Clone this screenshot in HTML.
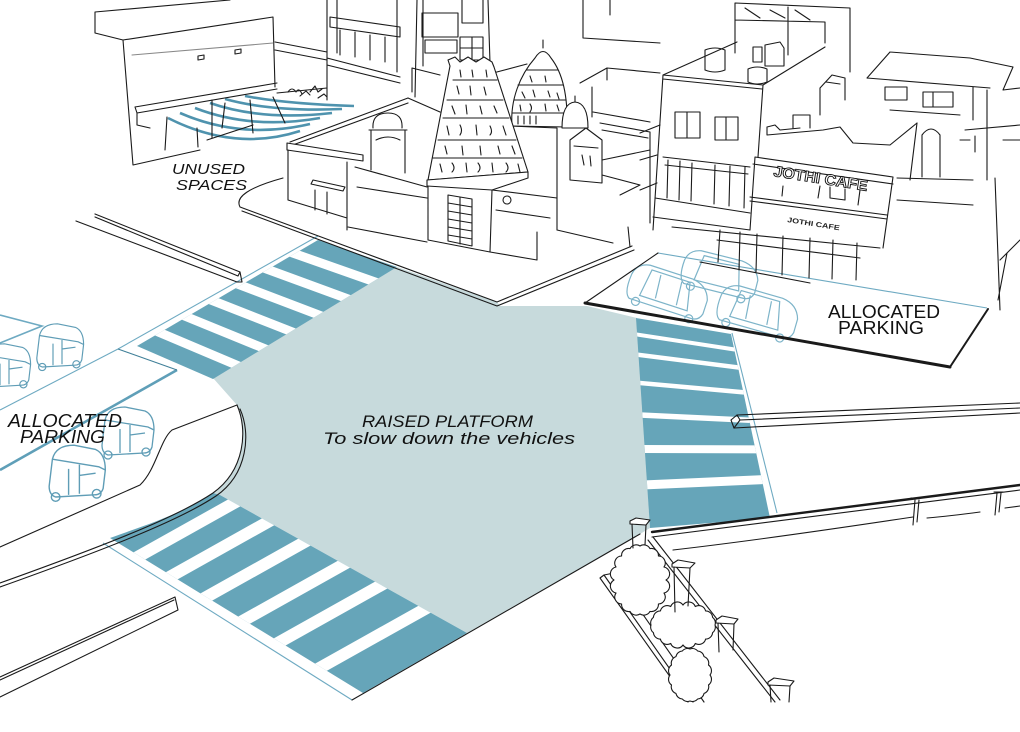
<!DOCTYPE html>
<html><head><meta charset="utf-8">
<style>
html,body{margin:0;padding:0;background:#fff;}
svg{display:block;}
text{font-family:"Liberation Sans",sans-serif;}
</style></head><body>
<svg width="1020" height="732" viewBox="0 0 1020 732" xmlns="http://www.w3.org/2000/svg">
<defs>
<clipPath id="cNW"><polygon points="137,346 318,240 397,267 213,379"/></clipPath>
<clipPath id="cSW"><path d="M110,538 L363,693 L467,633 L220,495 L213,493 C180,515 140,527 110,538 Z"/></clipPath>
<clipPath id="cE"><polygon points="636,318 731,334 770,518 650,528"/></clipPath>
</defs>
<rect width="1020" height="732" fill="#fff"/>

<!-- raised platform -->
<path d="M213,378 L397,267 L497,302 L500,306 L587,306 L637,318 L650,528 L640,534 L467,633 L220,495 L213,493 C245,470 248,430 237,405 Z" fill="#c7dadc"/>

<!-- NW crosswalk -->
<g clip-path="url(#cNW)">
<rect x="100" y="220" width="320" height="180" fill="#66a5b9"/>
<g stroke="#fff" stroke-width="9">
<line x1="136.9" y1="322.9" x2="259.1" y2="374.6"/>
<line x1="163.8" y1="307.5" x2="286.6" y2="357.6"/>
<line x1="190.5" y1="292" x2="314.2" y2="340.6"/>
<line x1="217.4" y1="276.4" x2="341.7" y2="323.7"/>
<line x1="244.3" y1="260.9" x2="369.2" y2="306.7"/>
<line x1="271.1" y1="245.4" x2="396.9" y2="289.7"/>
</g></g>

<!-- SW crosswalk -->
<g clip-path="url(#cSW)">
<rect x="100" y="480" width="380" height="230" fill="#66a5b9"/>
<g stroke="#fff" stroke-width="12">
<line x1="109" y1="573" x2="309" y2="461"/>
<line x1="141" y1="593" x2="341" y2="481"/>
<line x1="176" y1="614" x2="376" y2="502"/>
<line x1="214" y1="637" x2="414" y2="525"/>
<line x1="251" y1="658" x2="451" y2="546"/>
<line x1="291" y1="684" x2="491" y2="572"/>
</g></g>

<!-- E crosswalk -->
<g clip-path="url(#cE)">
<rect x="620" y="300" width="170" height="240" fill="#66a5b9"/>
<g stroke="#fff">
<line x1="620" y1="331.9" x2="790" y2="358" stroke-width="4"/>
<line x1="620" y1="352.5" x2="790" y2="374" stroke-width="4.5"/>
<line x1="620" y1="381.2" x2="790" y2="396.5" stroke-width="4.5"/>
<line x1="620" y1="414" x2="790" y2="422.2" stroke-width="5.5"/>
<line x1="620" y1="449" x2="790" y2="449.5" stroke-width="8"/>
<line x1="620" y1="486" x2="790" y2="478.4" stroke-width="9"/>
</g></g>

<!-- light blue road lines -->
<g stroke="#6eaac2" fill="none" stroke-width="1.1">
<path d="M118,349 L318,236"/>
<path d="M103,543 L352,700"/>
<path d="M732,333 L777,513"/>
<path d="M118,349 L0,410"/>
<path d="M0,315 L42,326 L0,343" stroke-width="1.6"/>
<path d="M658,253 L987,308"/>
</g>
<path d="M177,370 L0,470" stroke="#5f9fb8" stroke-width="2.6" fill="none"/>
<path d="M118,349 L177,370" stroke="#3f7f98" stroke-width="1" fill="none"/>

<!-- unused spaces blue arcs -->
<g stroke="#4f93ae" stroke-width="2.6" fill="none">
<path d="M168,118 Q235,152 300,131"/>
<path d="M180,113 Q242,140 310,124"/>
<path d="M195,108 Q252,130 320,118"/>
<path d="M210,103 Q262,121 332,113"/>
<path d="M225,99 Q272,112 342,109"/>
<path d="M245,96 Q287,104 354,106"/>
</g>

<!-- parked cars -->
<g stroke="#7db4c9" stroke-width="1.2" fill="none">
<g transform="translate(668,292) rotate(18)">
<path d="M-40,-6 Q-38,-18 -25,-20 L20,-20 Q36,-18 40,-4 L40,10 Q38,18 30,18 L-35,18 Q-42,14 -40,-6 Z"/>
<path d="M-22,-16 L18,-16 L24,12 L-26,12 Z"/><path d="M-12,-14 L-10,10 M10,-14 L12,10"/>
<circle cx="-28" cy="19" r="4"/><circle cx="28" cy="19" r="4"/></g>
<g transform="translate(720,275) rotate(14)">
<path d="M-38,-6 Q-36,-17 -24,-19 L18,-19 Q34,-17 38,-4 L38,9 Q36,17 28,17 L-33,17 Q-40,13 -38,-6 Z"/>
<path d="M-20,-15 L16,-15 L22,11 L-24,11 Z"/>
<circle cx="-26" cy="18" r="4"/><circle cx="26" cy="18" r="4"/></g>
<g transform="translate(758,312) rotate(16)">
<path d="M-40,-6 Q-38,-18 -25,-20 L20,-20 Q36,-18 40,-4 L40,10 Q38,18 30,18 L-35,18 Q-42,14 -40,-6 Z"/>
<path d="M-22,-16 L18,-16 L24,12 L-26,12 Z"/><path d="M-12,-14 L-10,10 M10,-14 L12,10"/>
<circle cx="-28" cy="19" r="4"/><circle cx="28" cy="19" r="4"/></g>
</g>

<!-- rickshaws -->
<g stroke="#5f9db6" stroke-width="1.3" fill="none">
<g transform="translate(-18,342) scale(0.9)"><path d="M5,15 Q8,2 25,2 L45,6 Q54,10 54,25 L52,42 Q50,48 44,48 L8,50 Q2,48 2,40 Z M5,15 L48,22 L54,25 M30,20 L30,47 M20,24 L20,48 M30,30 L45,28"/><circle cx="8" cy="50" r="4"/><circle cx="46" cy="47" r="4"/></g>
<g transform="translate(35,322) scale(0.9)"><path d="M5,15 Q8,2 25,2 L45,6 Q54,10 54,25 L52,42 Q50,48 44,48 L8,50 Q2,48 2,40 Z M5,15 L48,22 L54,25 M30,20 L30,47 M20,24 L20,48 M30,30 L45,28"/><circle cx="8" cy="50" r="4"/><circle cx="46" cy="47" r="4"/></g>
<g transform="translate(100,405) scale(1.0)"><path d="M5,15 Q8,2 25,2 L45,6 Q54,10 54,25 L52,42 Q50,48 44,48 L8,50 Q2,48 2,40 Z M5,15 L48,22 L54,25 M30,20 L30,47 M20,24 L20,48 M30,30 L45,28"/><circle cx="8" cy="50" r="4"/><circle cx="46" cy="47" r="4"/></g>
<g transform="translate(47,443) scale(1.08)"><path d="M5,15 Q8,2 25,2 L45,6 Q54,10 54,25 L52,42 Q50,48 44,48 L8,50 Q2,48 2,40 Z M5,15 L48,22 L54,25 M30,20 L30,47 M20,24 L20,48 M30,30 L45,28"/><circle cx="8" cy="50" r="4"/><circle cx="46" cy="47" r="4"/></g>
</g>

<!-- black line art -->
<g stroke="#1a1a1a" stroke-width="1.1" fill="none" stroke-linecap="round" stroke-linejoin="round">
<!-- left sidewalk -->
<path d="M237,405 C248,430 245,470 213,493 C180,515 120,540 0,583"/>
<path d="M240,409 C251,433 248,474 216,496 C183,518 123,543 0,587"/>
<path d="M237,405 L172,430 C160,440 156,470 140,485 L0,547"/>
<!-- median curb NW -->
<path d="M95,214 L240,272 L242,282 L237,282 L76,221"/>
<path d="M95,217 L238,276 L240,272"/>
<!-- curb SW -->
<path d="M0,677 L175,597 L178,610 L0,697"/>
<path d="M0,680 L174,600"/>
<!-- mid right rail -->
<path d="M1020,403 L737,415 L731,420 L734,428 L1020,413"/>
<path d="M737,415 L740,420 L734,428 M740,420 L1020,408"/>
<!-- bottom rail -->
<path d="M652,532 L1020,485" stroke-width="2.4"/>
<path d="M652,537 L1020,490"/>
<path d="M673,550 C760,540 860,525 913,517"/>
<path d="M915,500 L913,525 M919,500 L917,522 M911,498 L921,498"/>
<path d="M997,493 L995,515 M1001,493 L999,512 M994,492 L1003,492"/>
<path d="M927,518 C950,516 965,514 980,512 M1005,508 L1020,506"/>
<!-- platform bottom edge -->
<path d="M352,700 L640,534"/>
<!-- parking lot right -->
<path d="M585,303 L950,367" stroke-width="3"/>
<path d="M950,367 L988,309" stroke-width="2"/>
<path d="M585,303 L658,253"/>
<!-- hedge fence -->
<path d="M600,578 L688,702 M604,575 L693,702 M600,578 L604,575 L614,573 M614,573 L704,702"/>
<path d="M648,540 L775,702 M653,537 L780,700"/>
<path fill="#fff" d="M666,580 A7,7 0 0 1 664,593 A7,7 0 0 1 658.4,604 A7,7 0 0 1 650,611.4 A7,7 0 0 1 640,614 A7,7 0 0 1 630,611.4 A7,7 0 0 1 621.6,604 A7,7 0 0 1 616,593 A7,7 0 0 1 614,580 A7,7 0 0 1 616,567 A7,7 0 0 1 621.6,556 A7,7 0 0 1 630,548.6 A7,7 0 0 1 640,546 A7,7 0 0 1 650,548.6 A7,7 0 0 1 658.4,556 A7,7 0 0 1 664,567 A7,7 0 0 1 666,580 Z"/>
<path fill="#fff" d="M715,625 A7,7 0 0 1 712.6,632.7 A7,7 0 0 1 705.6,639.1 A7,7 0 0 1 695.3,643.5 A7,7 0 0 1 683,645 A7,7 0 0 1 670.7,643.5 A7,7 0 0 1 660.4,639.1 A7,7 0 0 1 653.4,632.7 A7,7 0 0 1 651,625 A7,7 0 0 1 653.4,617.3 A7,7 0 0 1 660.4,610.9 A7,7 0 0 1 670.7,606.5 A7,7 0 0 1 683,605 A7,7 0 0 1 695.3,606.5 A7,7 0 0 1 705.6,610.9 A7,7 0 0 1 712.6,617.3 A7,7 0 0 1 715,625 Z"/>
<path fill="#fff" d="M710,675 A7,7 0 0 1 708.5,685 A7,7 0 0 1 704.1,693.4 A7,7 0 0 1 697.7,699 A7,7 0 0 1 690,701 A7,7 0 0 1 682.3,699 A7,7 0 0 1 675.9,693.4 A7,7 0 0 1 671.5,685 A7,7 0 0 1 670,675 A7,7 0 0 1 671.5,665 A7,7 0 0 1 675.9,656.6 A7,7 0 0 1 682.3,651 A7,7 0 0 1 690,649 A7,7 0 0 1 697.7,651 A7,7 0 0 1 704.1,656.6 A7,7 0 0 1 708.5,665 A7,7 0 0 1 710,675 Z"/>
<path fill="#fff" d="M630,521 L636,518 L650,520 L646,525 L630,524 Z"/>
<path d="M632,524 L633,548 M646,525 L645,545"/>
<path fill="#fff" d="M672,564 L678,560 L695,563 L690,568 L672,567 Z"/>
<path d="M674,567 L675,612 M690,568 L688,606"/>
<path fill="#fff" d="M716,620 L722,616 L738,619 L734,624 L716,623 Z"/>
<path d="M718,623 L719,652 M734,624 L733,650"/>
<path fill="#fff" d="M768,682 L774,678 L794,681 L790,686 L768,685 Z"/>
<path d="M770,685 L771,702 M790,686 L789,702"/>

<!-- top-left building -->
<path d="M95,12 L230,0 M95,12 L95,33 L123,40 L273,17 M123,40 L133,165 L200,150 M273,17 L275,87"/>
<path d="M132,55 L273,43" stroke="#888"/>
<path d="M135,107 L277,83 M137,113 L277,89 M135,107 L137,113 L137,125 L150,128 M167,117 L165,150 M197,128 L198,147"/>
<path d="M198,56 L204,55 L204,59 L198,60 Z M235,50 L241,49 L241,53 L235,54 Z"/>
<path d="M275,42 L327,52 M275,50 L327,60 M277,93 L327,88"/>
<path d="M212,100 L212,138 M225,103 L222,128 M250,100 L253,133 M273,97 L285,123 M207,140 L253,125"/>
<path d="M288,92 q4,-6 8,0 q3,-5 6,2 M300,96 l6,-5 l4,4 M310,92 l5,-6 l3,6 l4,-3 M318,98 l6,-4 l3,3"/>
<!-- background buildings -->
<path d="M327,0 L327,100 M337,0 L337,53 M397,0 L397,72 M330,17 L400,27 L400,37 L330,27 Z M327,58 L400,77 M327,65 L400,83 M340,30 L340,55 M355,32 L355,57 M370,35 L370,60 M385,37 L385,62"/>
<path d="M417,0 L415,97 M423,0 L423,66 M488,0 L490,63 M422,13 L458,13 L458,37 L422,37 Z M462,0 L462,23 L483,23 L483,0 M425,40 L457,40 L457,53 L425,53 Z M460,37 L483,37 L483,60 L460,60 Z M472,37 L472,60 M460,48 L483,48 M412,68 L440,75 M412,68 L412,92"/>
<path d="M583,0 L583,38 L660,43 M610,0 L610,15"/>
<!-- temple compound back -->
<path d="M290,142 L408,98 M290,146 L408,103 M408,98 L440,112 M493,73 L527,64 M580,83 L607,68 L660,73 M592,87 L592,117 M593,112 L650,122 M607,68 L607,80 M600,123 L650,132 L650,223 M602,130 L648,138"/>
<!-- plaza base -->
<path d="M283,178 Q232,192 240,207 L497,302 L632,246"/>
<path d="M242,211 L497,306 L634,250"/>
<path d="M557,230 L613,243 M630,247 L628,227"/>
<!-- gatehouse left -->
<path d="M287,143 L363,155 L363,161 L287,150 Z" fill="#fff"/>
<path d="M288,150 L288,200 L347,218 M347,162 L347,230 M313,180 L345,187 L343,191 L311,184 Z M315,190 L315,210 M327,192 L327,214"/>
<path d="M355,167 L427,187 M357,187 L427,198 M348,227 L427,242"/>
<!-- small shrine -->
<path d="M371,130 L371,170 M405,130 L405,173 M369,130 L407,130 M373,128 Q372,113 388,113 Q403,113 402,128 M376,140 Q388,134 400,140"/>
<!-- vimana -->
<path d="M512,126 C510,100 520,75 535,58 Q543,45 551,58 C562,72 568,95 567,127 Z" fill="#fff"/>
<path d="M527,70 L558,70 M518,85 L563,85 M514,100 L566,100 M512,113 L567,113 M543,48 L543,40 M522,92 l3,6 M533,90 l2,7 M548,91 l2,6 M557,93 l2,6 M530,76 l2,6 M545,76 l1,6 M520,105 l1,6 M530,104 q3,4 0,8 M545,104 l1,7 M557,105 l2,6 M518,116 l0,8 M524,116 l0,8 M530,116 l0,8 M536,116 l0,8"/>
<path d="M510,126 L557,128 L557,198 M510,126 L510,170"/>
<path d="M562,128 Q562,103 575,102 Q588,103 588,128 Z M575,102 L575,96" fill="#fff"/>
<!-- right shrine -->
<path d="M570,140 L586,128 L602,140 L602,183 L570,180 Z" fill="#fff"/>
<path d="M574,146 L598,148 M602,160 L650,150 M602,175 L640,185 L620,195 M557,198 L557,230 M582,155 l2,10 M590,156 l1,10"/>
<!-- gopuram -->
<path d="M428,180 L450,66 L448,60 L455,57 L460,62 L468,57 L476,62 L484,57 L492,62 L494,67 L528,172 Z" fill="#fff"/>
<path d="M453,80 L497,80 M447,100 L503,100 M443,118 L509,118 M438,140 L516,140 M433,158 L522,158"/>
<path d="M457,86 l2,8 M470,86 l1,9 M484,87 l2,8 M452,106 l3,8 M466,105 l1,9 M480,106 l2,8 M494,106 l3,7 M447,126 l2,9 M460,125 q3,6 0,10 M476,125 l1,10 M490,126 q3,6 0,9 M503,126 l3,9 M445,146 l2,8 M462,146 l1,9 M480,146 l1,9 M498,146 l2,8 M512,146 l3,8 M440,164 l2,8 M452,163 q4,5 0,9 M466,163 l1,9 M478,163 q4,5 0,9 M492,163 l1,9 M506,163 q4,5 0,9 M518,164 l2,8 M460,70 l1,7 M472,70 l1,7 M486,70 l1,7"/>
<path d="M427,180 L528,172 L528,178 L492,190 L427,186 Z" fill="#fff"/>
<path d="M428,186 L428,240 L490,252 L492,190 M448,195 L472,199 L472,246 L448,241 Z M448,203 L472,207 M448,211 L472,215 M448,219 L472,223 M448,227 L472,231 M448,235 L472,239 M460,197 L460,244"/>
<path d="M492,190 L557,198 M490,252 L537,260 L537,232 M496,210 L550,218"/>
<circle cx="507" cy="200" r="4"/>
<!-- right buildings: A -->
<path d="M663,75 L737,42 M663,75 L763,85 M663,79 L762,89 M663,75 L653,230 M763,85 L758,157 M763,85 L825,47"/>
<path d="M735,3 L850,8 M735,20 L825,22 M735,3 L735,53 M788,7 L788,55 M850,8 L850,72 M825,22 L825,43 M745,8 L760,18 M770,10 L785,18 M795,10 L810,20"/>
<path d="M705,50 L705,70 Q715,74 725,70 L725,50 Q715,46 705,50 Z M748,69 L748,82 Q757,86 767,82 L767,69 Q757,65 748,69 Z M753,47 L753,62 L762,62 L762,47 Z M765,45 L780,42 L784,48 L784,66 L765,66 Z"/>
<path d="M675,112 L700,112 L700,138 L675,138 Z M687,112 L687,138 M715,117 L738,117 L738,140 L715,140 Z M726,117 L726,140"/>
<path d="M663,157 L750,167 M655,198 L750,213 M653,217 L750,230 M665,165 L748,174 M668,160 L667,198 M680,161 L679,200 M692,163 L691,201 M715,165 L714,204 M730,166 L729,206 M745,167 L744,208"/>
<path d="M640,133 L660,125 M640,160 L657,155 M640,190 L657,183"/>
<!-- Jothi cafe building -->
<path d="M767,127 L767,135 L823,130 L840,127 L853,143 L890,145 L917,123 M767,127 L775,125 L780,130 L800,128"/>
<path d="M755,157 L893,177 M753,164 L893,184 M755,157 L750,230 M750,197 L887,215 M750,201 L887,219 M893,177 L883,248 M917,123 L910,180 M897,178 L973,180 M897,200 L973,205"/>
<path d="M793,128 L793,115 L810,115 L810,128 M820,88 L832,75 L845,78 L845,100 M820,88 L820,115 M826,82 L840,84"/>
<path d="M783,186 L782,196 M820,186 L818,198 M830,187 L830,198 L845,200 L845,189 M860,190 L858,205"/>
<!-- building C -->
<path d="M890,52 L970,58 L1013,67 M867,78 L890,52 M867,78 L990,88 M885,87 L907,87 L907,100 L885,100 Z M923,92 L953,92 L953,107 L923,107 Z M933,92 L933,107 M922,177 L922,135 Q931,123 940,135 L940,177 M973,87 L973,120 M987,90 L987,180 M1013,67 L1003,90 L1020,88 M960,140 L970,140 M975,136 L975,152 M890,110 L960,115"/>
<path d="M965,130 L1020,125 M1003,140 L1020,140 M995,178 L1000,310 M1000,260 L1020,240 M1007,253 L998,300"/>
<!-- ground grid behind parking -->
<path d="M672,227 L880,248 M717,240 L860,258 M720,230 L718,262 M740,232 L739,270 M757,234 L756,272 M783,236 L782,275 M810,238 L809,278 M833,240 L832,279 M857,243 L856,280 M700,262 L810,283"/>
</g>

<!-- shop signs -->
<text x="773" y="176" transform="rotate(9 773 176)" font-weight="bold" font-size="15" fill="#fff" stroke="#111" stroke-width="0.9" textLength="95" lengthAdjust="spacingAndGlyphs">JOTHI CAFE</text>
<text x="787" y="222" transform="rotate(9 787 222)" font-weight="bold" font-size="7" fill="#222" textLength="53" lengthAdjust="spacingAndGlyphs">JOTHI CAFE</text>

<!-- labels -->
<g fill="#111">
<text x="172" y="174" font-size="15" font-style="italic" textLength="73" lengthAdjust="spacingAndGlyphs">UNUSED</text>
<text x="176" y="190" font-size="15" font-style="italic" textLength="71" lengthAdjust="spacingAndGlyphs">SPACES</text>
<text x="8" y="427" font-size="18" font-style="italic" textLength="114" lengthAdjust="spacingAndGlyphs">ALLOCATED</text>
<text x="20" y="443" font-size="18" font-style="italic" textLength="85" lengthAdjust="spacingAndGlyphs">PARKING</text>
<text x="828" y="318" font-size="18" textLength="112" lengthAdjust="spacingAndGlyphs">ALLOCATED</text>
<text x="838" y="334" font-size="18" textLength="86" lengthAdjust="spacingAndGlyphs">PARKING</text>
<text x="362" y="427" font-size="17" font-style="italic" textLength="171" lengthAdjust="spacingAndGlyphs">RAISED PLATFORM</text>
<text x="323" y="444" font-size="17" font-style="italic" textLength="252" lengthAdjust="spacingAndGlyphs">To slow down the vehicles</text>
</g>
</svg>
</body></html>
